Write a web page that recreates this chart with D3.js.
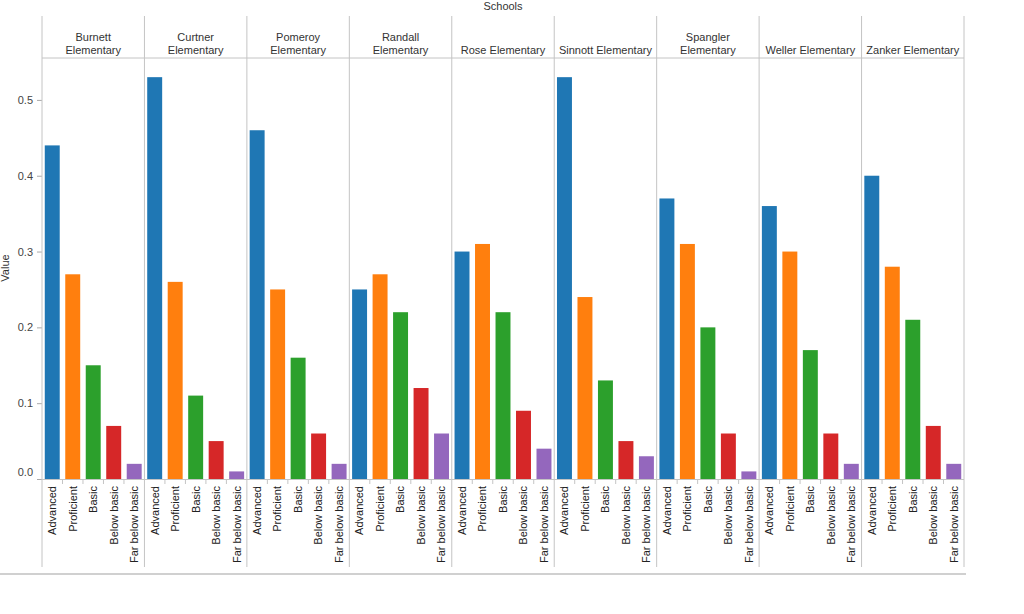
<!DOCTYPE html>
<html>
<head>
<meta charset="utf-8">
<script src="https://cdn.jsdelivr.net/npm/d3@7"></script>
<style>
  body { margin: 0; background: #fff; }
  svg { font-family: "Liberation Sans", Arial, sans-serif; }
</style>
</head>
<body>
<script>
const schools = ["Burnett Elementary", "Curtner Elementary", "Pomeroy Elementary", "Randall Elementary",
  "Rose Elementary", "Sinnott Elementary", "Spangler Elementary", "Weller Elementary", "Zanker Elementary"];
const headerLines = [["Burnett", "Elementary"], ["Curtner", "Elementary"], ["Pomeroy", "Elementary"],
  ["Randall", "Elementary"], ["Rose Elementary"], ["Sinnott Elementary"], ["Spangler", "Elementary"],
  ["Weller Elementary"], ["Zanker Elementary"]];
const levels = ["Advanced", "Proficient", "Basic", "Below basic", "Far below basic"];
const values = [
  [0.44, 0.27, 0.15, 0.07, 0.02],
  [0.53, 0.26, 0.11, 0.05, 0.01],
  [0.46, 0.25, 0.16, 0.06, 0.02],
  [0.25, 0.27, 0.22, 0.12, 0.06],
  [0.30, 0.31, 0.22, 0.09, 0.04],
  [0.53, 0.24, 0.13, 0.05, 0.03],
  [0.37, 0.31, 0.20, 0.06, 0.01],
  [0.36, 0.30, 0.17, 0.06, 0.02],
  [0.40, 0.28, 0.21, 0.07, 0.02]
];
const yTicks = [0, 0.1, 0.2, 0.3, 0.4, 0.5];

const color = d3.scaleOrdinal().domain(levels).range(d3.schemeCategory10);

const marginLeft = 42, marginRight = 964, lineTop = 16, headerBottom = 58, plotBottom = 479, lineBottom = 567;
const lineColor = "#c4c4c4";

const svg = d3.select("body").append("svg")
  .attr("width", 1024)
  .attr("height", 614);

const x = d3.scaleBand().domain(schools).range([marginLeft, marginRight]);
const xInner = d3.scaleBand().domain(levels).range([0, x.bandwidth()]).paddingInner(0.27).paddingOuter(0.135);
const y = d3.scaleLinear().domain([0, 0.55]).range([plotBottom, 62]);

// title
svg.append("text")
  .attr("x", (marginLeft + marginRight) / 2)
  .attr("y", 10)
  .attr("text-anchor", "middle")
  .style("font-size", "11px")
  .attr("fill", "#333")
  .text("Schools");

// y axis title
svg.append("text")
  .attr("transform", "translate(9," + 268 + ") rotate(-90)")
  .attr("text-anchor", "middle")
  .style("font-size", "11px")
  .attr("fill", "#333")
  .text("Value");

// y axis
const yAxis = svg.append("g")
  .attr("transform", "translate(" + marginLeft + ",0)")
  .call(d3.axisLeft(y).tickValues(yTicks).tickFormat(d3.format(".1f")).tickSize(5).tickPadding(4));
yAxis.select(".domain").remove();
yAxis.selectAll("line").attr("stroke", "#aaa");
yAxis.selectAll("text").style("font-size", "11px").style("font-family", "Liberation Sans, Arial, sans-serif").attr("fill", "#444");
yAxis.selectAll(".tick").filter(d => d === 0).select("text").attr("dy", "-0.3em");

// header horizontal line
svg.append("line")
  .attr("x1", marginLeft).attr("x2", marginRight)
  .attr("y1", headerBottom).attr("y2", headerBottom)
  .attr("stroke", lineColor);

// panel separators
const bounds = schools.map(s => x(s)).concat([marginRight]);
svg.selectAll(".sep")
  .data(bounds)
  .join("line")
  .attr("class", "sep")
  .attr("x1", d => d).attr("x2", d => d)
  .attr("y1", lineTop).attr("y2", lineBottom)
  .attr("stroke", lineColor);

// bottom baseline
svg.append("line")
  .attr("x1", marginLeft).attr("x2", marginRight)
  .attr("y1", plotBottom + 0.5).attr("y2", plotBottom + 0.5)
  .attr("stroke", lineColor);

// bottom grey bar
svg.append("line")
  .attr("x1", 0).attr("x2", 966)
  .attr("y1", 574).attr("y2", 574)
  .attr("stroke", "#d0d0d0")
  .attr("stroke-width", 2);

schools.forEach((school, i) => {
  const g = svg.append("g").attr("transform", "translate(" + x(school) + ",0)");

  // header text
  const lines = headerLines[i];
  const t = g.append("text")
    .attr("text-anchor", "middle")
    .style("font-size", "11px")
    .attr("fill", "#333");
  lines.forEach((ln, k) => {
    t.append("tspan")
      .attr("x", x.bandwidth() / 2)
      .attr("y", lines.length === 2 ? 41 + k * 13 : 54)
      .text(ln);
  });

  // bars
  g.selectAll("rect")
    .data(levels.map((lv, j) => ({ level: lv, value: values[i][j] })))
    .join("rect")
    .attr("x", d => xInner(d.level))
    .attr("y", d => y(d.value))
    .attr("width", xInner.bandwidth())
    .attr("height", d => y(0) - y(d.value))
    .attr("fill", d => color(d.level));

  // x axis per panel
  const ax = g.append("g")
    .attr("transform", "translate(0," + plotBottom + ")")
    .call(d3.axisBottom(xInner).tickSize(0).tickPadding(6));
  ax.select(".domain").remove();
  ax.selectAll("text")
    .attr("transform", "rotate(-90)")
    .attr("text-anchor", "end")
    .attr("x", -7)
    .attr("y", 0)
    .attr("dy", "0.35em")
    .style("font-size", "11px")
    .style("font-family", "Liberation Sans, Arial, sans-serif")
    .attr("fill", "#222");

  // small ticks between bands
  g.selectAll(".btick")
    .data(levels.slice(1))
    .join("line")
    .attr("class", "btick")
    .attr("x1", d => xInner(d) - xInner.step() * xInner.paddingInner() / 2)
    .attr("x2", d => xInner(d) - xInner.step() * xInner.paddingInner() / 2)
    .attr("y1", plotBottom).attr("y2", plotBottom + 5)
    .attr("stroke", lineColor);
});
</script>
</body>
</html>
